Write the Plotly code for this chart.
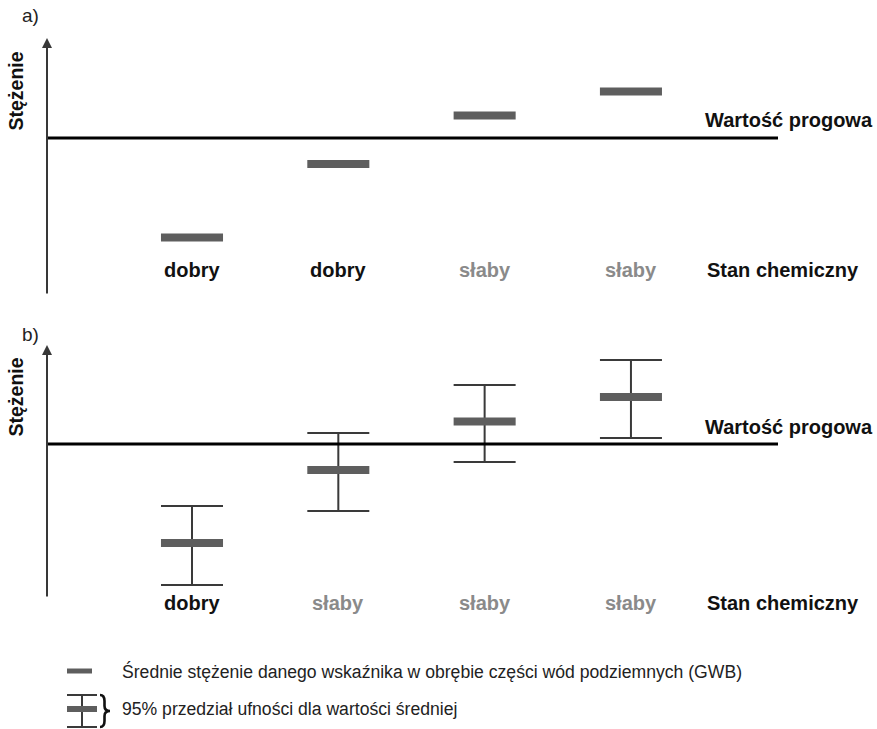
import plotly.graph_objects as go

# ---- data -------------------------------------------------------------
categories = ["A", "B", "C", "D"]

# panel a) mean concentration only
threshold_a = 78.5
mean_a = [28.75, 65.5, 89.75, 101.75]
status_a = ["dobry", "dobry", "słaby", "słaby"]

# panel b) mean concentration with 95% confidence interval
threshold_b = 77.0
mean_b = [27.5, 64.0, 88.25, 100.5]
upper_b = [46.0, 82.5, 106.5, 119.0]
lower_b = [6.5, 43.5, 68.0, 80.0]
status_b = ["dobry", "słaby", "słaby", "słaby"]

threshold_label = "Wartość progowa"
status_title = "Stan chemiczny"
y_title = "Stężenie"
legend_mean = "Średnie stężenie danego wskaźnika w obrębie części wód podziemnych (GWB)"
legend_ci = "95% przedział ufności dla wartości średniej"

# ---- style ------------------------------------------------------------
W, H = 877, 729
FONT = "Liberation Sans, Arial, Helvetica, sans-serif"
BAR_COL = "#5e5e5e"
ERR_COL = "#3a3a3a"
AXIS_COL = "#383838"
GOOD_COL = "#111111"
POOR_COL = "#8a8a8a"
HALF = 0.212  # half width of a mean marker, in category units


def fx(p):
    return p / W


def fy(p):
    return 1 - p / H


def label(x, y, text, size, color="#111111", xanchor="center", xref="paper", **kw):
    return dict(xref=xref, yref="paper", x=x, y=y, xanchor=xanchor, yanchor="middle",
                text=text, showarrow=False,
                font=dict(size=size, color=color, family=FONT), **kw)


x_range = [-0.991, 4.005]
x_dom = [fx(47), fx(778)]

fig = go.Figure()


def mean_trace(means, xa, ya):
    xs, ys = [], []
    for i, m in enumerate(means):
        xs += [i - HALF, i + HALF, None]
        ys += [m, m, None]
    return go.Scatter(x=xs, y=ys, mode="lines", xaxis=xa, yaxis=ya,
                      line=dict(color=BAR_COL, width=8), hoverinfo="skip",
                      showlegend=False)


# panel a
fig.add_trace(mean_trace(mean_a, "x", "y"))

# panel b: confidence intervals then means on top
fig.add_trace(go.Scatter(
    x=list(range(len(categories))), y=mean_b, mode="markers",
    xaxis="x2", yaxis="y2", marker=dict(size=1, opacity=0),
    error_y=dict(type="data", symmetric=False,
                 array=[u - m for u, m in zip(upper_b, mean_b)],
                 arrayminus=[m - l for m, l in zip(mean_b, lower_b)],
                 color=ERR_COL, thickness=2, width=31),
    hoverinfo="skip", showlegend=False))
fig.add_trace(mean_trace(mean_b, "x2", "y2"))

shapes = []
annotations = []

panels = [
    dict(xa="x", ya="y", thr=threshold_a, status=status_a, top=38, bottom=295,
         label="a)", label_y=15, title_y=91, thr_lab_y=120, status_y=270),
    dict(xa="x2", ya="y2", thr=threshold_b, status=status_b, top=345, bottom=598,
         label="b)", label_y=335, title_y=397, thr_lab_y=427, status_y=603),
]

for p in panels:
    # threshold line
    shapes.append(dict(type="line", xref=p["xa"] + " domain", yref=p["ya"],
                       x0=0, x1=1, y0=p["thr"], y1=p["thr"],
                       line=dict(color="#000000", width=3)))
    # vertical axis with arrow head
    annotations.append(dict(xref=p["xa"] + " domain", yref=p["ya"] + " domain",
                            x=0, y=1, ax=0, ay=p["bottom"] - p["top"],
                            axref="pixel", ayref="pixel", text="",
                            showarrow=True, arrowhead=2, arrowsize=1,
                            arrowwidth=2, arrowcolor=AXIS_COL, standoff=0))
    annotations.append(label(fx(31), fy(p["label_y"]), p["label"], 19, "#222222"))
    annotations.append(label(fx(15.5), fy(p["title_y"]), "<b>%s</b>" % y_title, 19.5,
                             textangle=-90))
    annotations.append(label(fx(703), fy(p["thr_lab_y"]), "<b>%s</b>" % threshold_label,
                             20, xanchor="left"))
    annotations.append(label(fx(705), fy(p["status_y"]), "<b>%s</b>" % status_title,
                             20, xanchor="left"))
    for i, s in enumerate(p["status"]):
        annotations.append(label(i, fy(p["status_y"]), "<b>%s</b>" % s, 20,
                                 GOOD_COL if s == "dobry" else POOR_COL,
                                 xref=p["xa"]))

# ---- key ---------------------------------------------------------------
shapes.append(dict(type="line", xref="paper", yref="paper",
                   x0=fx(67), x1=fx(92), y0=fy(671), y1=fy(671),
                   line=dict(color=BAR_COL, width=5)))
for yy in (695, 727):
    shapes.append(dict(type="line", xref="paper", yref="paper",
                       x0=fx(67), x1=fx(97), y0=fy(yy), y1=fy(yy),
                       line=dict(color=ERR_COL, width=2)))
shapes.append(dict(type="line", xref="paper", yref="paper",
                   x0=fx(82), x1=fx(82), y0=fy(695), y1=fy(727),
                   line=dict(color=ERR_COL, width=2)))
shapes.append(dict(type="line", xref="paper", yref="paper",
                   x0=fx(67), x1=fx(97), y0=fy(709), y1=fy(709),
                   line=dict(color=BAR_COL, width=6)))


def brace_path(x0, top, mid, bottom, depth):
    """Right-facing curly brace, given in pixels and written in paper units."""
    xa, xb, xc = x0, x0 + depth * 0.45, x0 + depth
    pts = [
        ("M", [(xa, top)]),
        ("Q", [(xb, top), (xb, top + 6)]),
        ("L", [(xb, mid - 5)]),
        ("Q", [(xb, mid), (xc, mid)]),
        ("Q", [(xb, mid), (xb, mid + 5)]),
        ("L", [(xb, bottom - 6)]),
        ("Q", [(xb, bottom), (xa, bottom)]),
    ]
    out = []
    for cmd, coords in pts:
        out.append(cmd + " " + " ".join("%.5f,%.5f" % (fx(a), fy(b)) for a, b in coords))
    return " ".join(out)


shapes.append(dict(type="path", xref="paper", yref="paper",
                   path=brace_path(100, 695, 711, 727, 10),
                   line=dict(color="#111111", width=2.6)))
annotations.append(label(fx(120), fy(671), legend_mean, 17.6, "#222222", xanchor="left"))
annotations.append(label(fx(120), fy(709), legend_ci, 17.6, "#222222", xanchor="left"))

axis_common = dict(visible=False, fixedrange=True)
fig.update_layout(
    width=W, height=H,
    margin=dict(l=0, r=0, t=0, b=0),
    paper_bgcolor="white", plot_bgcolor="white",
    xaxis=dict(domain=x_dom, range=x_range, anchor="y", **axis_common),
    yaxis=dict(domain=[fy(295), fy(38)], range=[0, 128.5], anchor="x", **axis_common),
    xaxis2=dict(domain=x_dom, range=x_range, anchor="y2", **axis_common),
    yaxis2=dict(domain=[fy(598), fy(345)], range=[0, 126.5], anchor="x2", **axis_common),
    shapes=shapes,
    annotations=annotations,
    showlegend=False,
)

fig.write_html("out.html")
